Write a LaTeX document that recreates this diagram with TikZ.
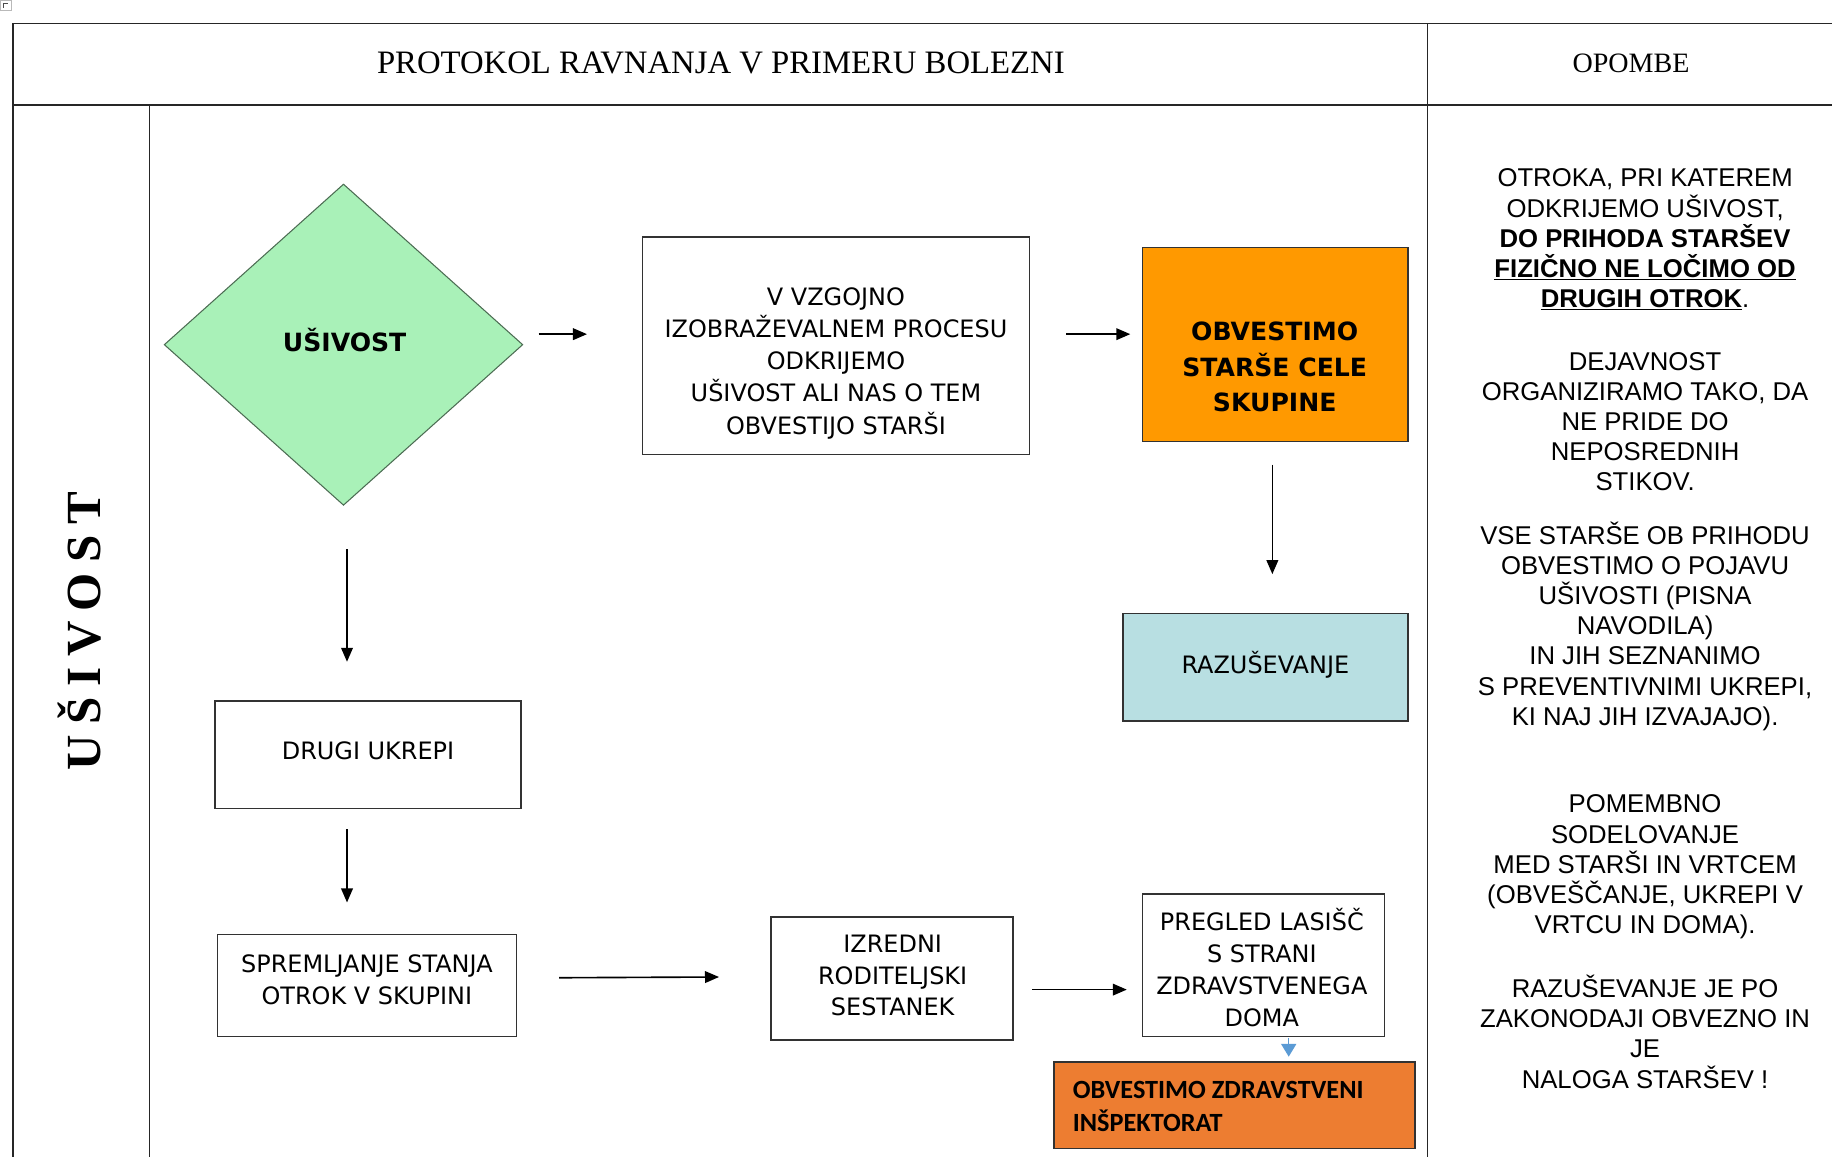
\documentclass[tikz,border=0pt]{standalone}
\usepackage{fontspec}
\setmainfont{Liberation Serif}
\newfontfamily\notefont{Liberation Sans}
\newfontfamily\boxfont{DejaVu Sans}
\newfontfamily\calfont{Carlito}
\usetikzlibrary{arrows.meta,shapes.geometric,calc}

\definecolor{diagreen}{RGB}{169,241,184}
\definecolor{warnorange}{RGB}{255,153,0}
\definecolor{paleblue}{RGB}{184,223,226}
\definecolor{insporange}{RGB}{237,125,49}
\definecolor{linkblue}{RGB}{91,155,213}
\definecolor{edgegray}{RGB}{50,50,50}

\begin{document}
\begin{tikzpicture}[x=1pt,y=-1pt,
  tableline/.style={line width=1.2pt, black!85},
  flowbox/.style={draw=edgegray, line width=1.2pt, rectangle, inner sep=0pt},
  boxtext/.style={align=center, inner sep=0pt, font=\boxfont\fontsize{20.5}{27.5}\selectfont},
  boldbox/.style={align=center, inner sep=0pt, font=\boxfont\bfseries\fontsize{21.5}{30}\selectfont},
  notes/.style={align=center, inner sep=0pt, font=\notefont\fontsize{22}{25.8}\selectfont},
  flowarrow/.style={line width=1.4pt, black, -{Triangle[length=12pt,width=10pt]}},
  bluearrow/.style={line width=1.2pt, linkblue, -{Triangle[length=11pt,width=13pt]}},
]
\useasboundingbox (0,0) rectangle (1568,990);

% small corner mark
\draw[gray!55, line width=0.6pt] (0,0.5) rectangle (9.5,9);
\draw[black!70, line width=0.9pt] (3,6.5) -- (3,3) -- (7,3);

% table frame
\draw[tableline] (11,20) -- (1568,20);
\draw[tableline] (11,90) -- (1568,90);
\draw[tableline] (11,20) -- (11,990);
\draw[tableline] (1222,20) -- (1222,990);
\draw[tableline] (128,90) -- (128,990);

% headings
\node[font=\fontsize{28}{32}\selectfont, inner sep=0pt] (title) at (617,54) {PROTOKOL RAVNANJA V PRIMERU BOLEZNI};
\node[font=\fontsize{24}{28}\selectfont, inner sep=0pt] (remarks) at (1396,54) {OPOMBE};
\node[rotate=90, inner sep=0pt, font=\bfseries\fontsize{42}{46}\selectfont\addfontfeature{LetterSpace=22}] (side) at (68,540) {UŠIVOST};

% flow nodes
\node[diamond, draw=black!55!diagreen, line width=0.9pt, fill=diagreen,
      minimum width=307pt, minimum height=275pt, inner sep=0pt] (dia) at (294,295) {};
\node[inner sep=0pt, font=\boxfont\bfseries\fontsize{21.5}{24}\selectfont] (dia-t) at (295,291) {UŠIVOST};

\node[flowbox, minimum width=331pt, minimum height=186pt] (box1) at (715.5,296) {};
\node[boxtext] (box1-t) at (715.5,311) {V VZGOJNO\\IZOBRAŽEVALNEM PROCESU\\ODKRIJEMO\\UŠIVOST ALI NAS O TEM\\OBVESTIJO STARŠI};

\node[flowbox, fill=warnorange, minimum width=227pt, minimum height=166pt] (notify) at (1091.5,295) {};
\node[boldbox] (notify-t) at (1091,314) {OBVESTIMO\\STARŠE CELE\\SKUPINE};

\node[flowbox, fill=paleblue, minimum width=244pt, minimum height=92pt] (delouse) at (1083,571) {};
\node[boxtext] (delouse-t) at (1083,569) {RAZUŠEVANJE};

\node[flowbox, minimum width=262pt, minimum height=92pt] (other) at (315,646) {};
\node[boxtext] (other-t) at (315,643) {DRUGI UKREPI};

\node[flowbox, minimum width=256pt, minimum height=87pt] (monitor) at (314,843.5) {};
\node[boxtext, font=\boxfont\fontsize{20.5}{27}\selectfont] (monitor-t) at (314,838.5) {SPREMLJANJE STANJA\\OTROK V SKUPINI};

\node[flowbox, minimum width=207pt, minimum height=105pt] (meeting) at (763.5,837.5) {};
\node[boxtext, font=\boxfont\fontsize{20.5}{27}\selectfont] (meeting-t) at (764,835) {IZREDNI\\RODITELJSKI\\SESTANEK};

\node[flowbox, minimum width=207pt, minimum height=122pt] (exam) at (1081.5,826) {};
\node[boxtext, font=\boxfont\fontsize{20.5}{27.5}\selectfont] (exam-t) at (1080,828) {PREGLED LASIŠČ\\S STRANI\\ZDRAVSTVENEGA\\DOMA};

\node[flowbox, fill=insporange, minimum width=309pt, minimum height=74pt] (inspect) at (1056.5,946) {};
\node[anchor=west, align=left, inner sep=0pt, font=\calfont\bfseries\fontsize{22.5}{28}\selectfont] (inspect-t) at (918,947) {OBVESTIMO ZDRAVSTVENI\\INŠPEKTORAT};

% connectors
\draw[flowarrow, shorten <=13pt, shorten >=47pt] ([yshift=9pt]dia.east) -- ([yshift=10pt]box1.west);
\draw[flowarrow, shorten <=31pt, shorten >=10pt] ([yshift=10pt]box1.east) -- ([yshift=9pt]notify.west);
\draw[flowarrow, shorten <=19pt, shorten >=33pt] ([xshift=-2.5pt]notify.south) -- ([xshift=6pt]delouse.north);
\draw[flowarrow, shorten <=37pt, shorten >=33pt] ([xshift=3pt]dia.south) -- ([xshift=-18pt]other.north);
\draw[flowarrow, shorten <=17pt, shorten >=27pt] ([xshift=-18pt]other.south) -- ([xshift=-17pt]monitor.north);
\draw[flowarrow, shorten <=36pt, shorten >=44pt] ([yshift=6.5pt]monitor.east) -- ([yshift=1.5pt]meeting.west);
\draw[flowarrow, shorten <=16pt, shorten >=13pt] ([yshift=-9.5pt]meeting.east) -- ([yshift=-21pt]exam.west);
\draw[bluearrow, shorten <=1pt, shorten >=4pt] ([xshift=21.5pt]exam.south) -- ([xshift=46.5pt]inspect.north);

% remarks column
\node[notes] (n1) at (1408,205) {OTROKA, PRI KATEREM\\ODKRIJEMO UŠIVOST,\\\textbf{DO PRIHODA STARŠEV}\\\textbf{\underline{FIZIČNO NE LOČIMO OD}}\\\textbf{\underline{DRUGIH OTROK}}.};
\node[notes] (n2) at (1408,361) {DEJAVNOST\\ORGANIZIRAMO TAKO, DA\\NE PRIDE DO\\NEPOSREDNIH\\STIKOV.};
\node[notes] (n3) at (1408,536) {VSE STARŠE OB PRIHODU\\OBVESTIMO O POJAVU\\UŠIVOSTI (PISNA\\NAVODILA)\\IN JIH SEZNANIMO\\S PREVENTIVNIMI UKREPI,\\KI NAJ JIH IZVAJAJO).};
\node[notes] (n4) at (1408,742) {POMEMBNO\\SODELOVANJE\\MED STARŠI IN VRTCEM\\(OBVEŠČANJE, UKREPI V\\VRTCU IN DOMA).};
\node[notes] (n5) at (1408,883) {RAZUŠEVANJE JE PO\\ZAKONODAJI OBVEZNO IN\\JE\\NALOGA STARŠEV !};
\end{tikzpicture}
\end{document}
